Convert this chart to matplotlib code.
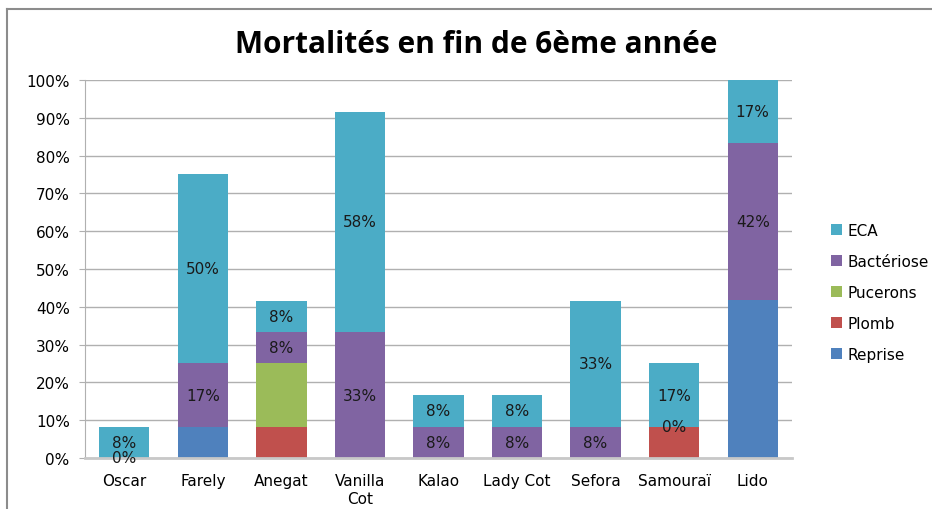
import matplotlib.pyplot as plt
from matplotlib.patches import Patch
from matplotlib.lines import Line2D
from matplotlib.ticker import PercentFormatter, MultipleLocator
import numpy as np

categories = ["Oscar", "Farely", "Anegat", "Vanilla\nCot", "Kalao",
              "Lady Cot", "Sefora", "Samouraï", "Lido"]

# mortality shares (out of 12 trees)
reprise = [0, 8.33, 0, 0, 0, 0, 0, 0, 41.67]
plomb = [0, 0, 8.33, 0, 0, 0, 0, 8.33, 0]
pucerons = [0, 0, 16.67, 0, 0, 0, 0, 0, 0]
bacteriose = [0, 16.67, 8.33, 33.33, 8.33, 8.33, 8.33, 0, 41.67]
eca = [8.33, 50.0, 8.33, 58.33, 8.33, 8.33, 33.33, 16.67, 16.67]

series = [("Reprise", reprise, "#4F81BD", False),
          ("Plomb", plomb, "#C0504D", False),
          ("Pucerons", pucerons, "#9BBB59", False),
          ("Bactériose", bacteriose, "#8064A2", True),
          ("ECA", eca, "#4BACC6", True)]

fig = plt.figure(figsize=(9.32, 5.10), dpi=100)
ax = fig.add_axes([0.0912, 0.1, 0.7586, 0.7412])

x = np.arange(len(categories))
bottom = np.zeros(len(categories))
handles = []
for name, vals, color, labelled in series:
    vals = np.array(vals)
    bars = ax.bar(x, vals, width=0.64, bottom=bottom, color=color, zorder=2)
    if labelled:
        ax.bar_label(bars, labels=[f"{v:.0f}%" for v in vals], label_type="center",
                     fontsize=11, color="#1a1a1a")
    bottom += vals
    handles.append(Patch(facecolor=color, label=name))

ax.set_xlim(-0.5, len(categories) - 0.5)
ax.set_ylim(0, 100)
ax.yaxis.set_major_locator(MultipleLocator(10))
ax.yaxis.set_major_formatter(PercentFormatter(decimals=0))
ax.set_xticks(x)
ax.set_xticklabels(categories, linespacing=1.2)
ax.grid(axis="y", color="#b0b0b0", linewidth=1, zorder=0)
ax.set_axisbelow(True)
for s in ["top", "right"]:
    ax.spines[s].set_visible(False)
ax.spines["left"].set_color("#b0b0b0")
ax.spines["bottom"].set_color("#c8c8c8")
ax.spines["bottom"].set_linewidth(2)
ax.tick_params(axis="y", length=4, color="#b0b0b0", labelsize=11, pad=7)
ax.tick_params(axis="x", length=0, labelsize=11, pad=11)

fig.text(0.511, 0.912, "Mortalités en fin de 6ème année", ha="center", va="center",
         fontsize=21.5, fontweight="bold", family="Open Sans")

fig.legend(handles=handles[::-1], loc="center left", bbox_to_anchor=(0.877, 0.425),
           frameon=False, fontsize=11, handlelength=0.7, handleheight=0.7,
           handletextpad=0.4, labelspacing=1.05)

# outer chart frame
fig.add_artist(Line2D([7 / 932, 7 / 932], [0, 1 - 10 / 510], transform=fig.transFigure,
                      color="#8c8c8c", linewidth=1.5))
fig.add_artist(Line2D([7 / 932, 1], [1 - 10 / 510, 1 - 10 / 510], transform=fig.transFigure,
                      color="#8c8c8c", linewidth=1.5))

plt.savefig("out.png", dpi=100)
